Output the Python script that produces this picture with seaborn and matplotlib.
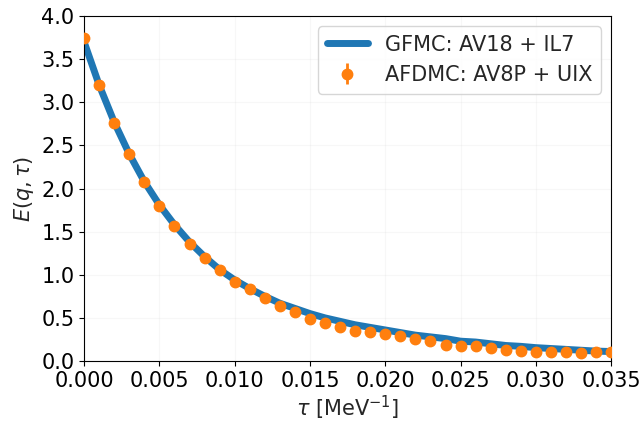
import numpy as np
import pandas as pd
import matplotlib
matplotlib.use("Agg")
import matplotlib.pyplot as plt
import seaborn as sns

# GFMC curve
tau_line = np.arange(36) * 0.001
e_gfmc = [3.70, 3.20, 2.77, 2.40, 2.08, 1.81, 1.58, 1.38, 1.21, 1.06,
          0.94, 0.84, 0.75, 0.67, 0.61, 0.55, 0.50, 0.46, 0.42, 0.39,
          0.36, 0.33, 0.30, 0.28, 0.26, 0.23, 0.22, 0.20, 0.18, 0.17,
          0.155, 0.145, 0.135, 0.125, 0.115, 0.11]

# AFDMC points
tau_pts = np.arange(36) * 0.001
e_afdmc = [3.74, 3.20, 2.76, 2.40, 2.07, 1.80, 1.57, 1.36, 1.20, 1.05,
           0.92, 0.83, 0.73, 0.64, 0.57, 0.49, 0.44, 0.39, 0.35, 0.34,
           0.31, 0.29, 0.26, 0.23, 0.19, 0.17, 0.17, 0.15, 0.13, 0.12,
           0.10, 0.11, 0.10, 0.09, 0.11, 0.11]
e_err = [0.01, 0.01, 0.01, 0.01, 0.01, 0.01, 0.01, 0.01, 0.01, 0.01,
         0.01, 0.01, 0.01, 0.01, 0.01, 0.01, 0.01, 0.01, 0.01, 0.01,
         0.02, 0.02, 0.02, 0.02, 0.02, 0.02, 0.02, 0.03, 0.05, 0.03,
         0.03, 0.03, 0.05, 0.03, 0.04, 0.03]

df_line = pd.DataFrame({"tau": tau_line, "E": e_gfmc})

sns.set_style("ticks")
plt.rcParams['font.family'] = ['DejaVu Sans']

fig, ax = plt.subplots(figsize=(6.42, 4.22), dpi=100)
fig.subplots_adjust(left=0.131, right=0.952, top=0.962, bottom=0.1445)

sns.lineplot(data=df_line, x="tau", y="E", ax=ax, color="#1f77b4", lw=5,
             label="GFMC: AV18 + IL7")
ax.errorbar(tau_pts, e_afdmc, yerr=e_err, fmt="o", color="#ff7f0e",
            markersize=7.5, elinewidth=2, label="AFDMC: AV8P + UIX", zorder=3)

ax.set_xlim(0, 0.035)
ax.set_ylim(0, 4.0)
ax.set_xticks(np.arange(0, 0.0351, 0.005))
ax.set_xticklabels(["0.000", "0.005", "0.010", "0.015", "0.020", "0.025", "0.030", "0.035"])
ax.set_yticks(np.arange(0, 4.01, 0.5))
ax.tick_params(labelsize=15, colors="black")
for s in ax.spines.values():
    s.set_color("black")
ax.grid(alpha=0.15)
ax.set_xlabel(r"$\tau$ [MeV$^{-1}$]", fontsize=15, labelpad=2)
ax.set_ylabel(r"$E(q,\tau)$", fontsize=15)
ax.legend(fontsize=15, loc="upper right")

plt.savefig("out.png", dpi=100)
